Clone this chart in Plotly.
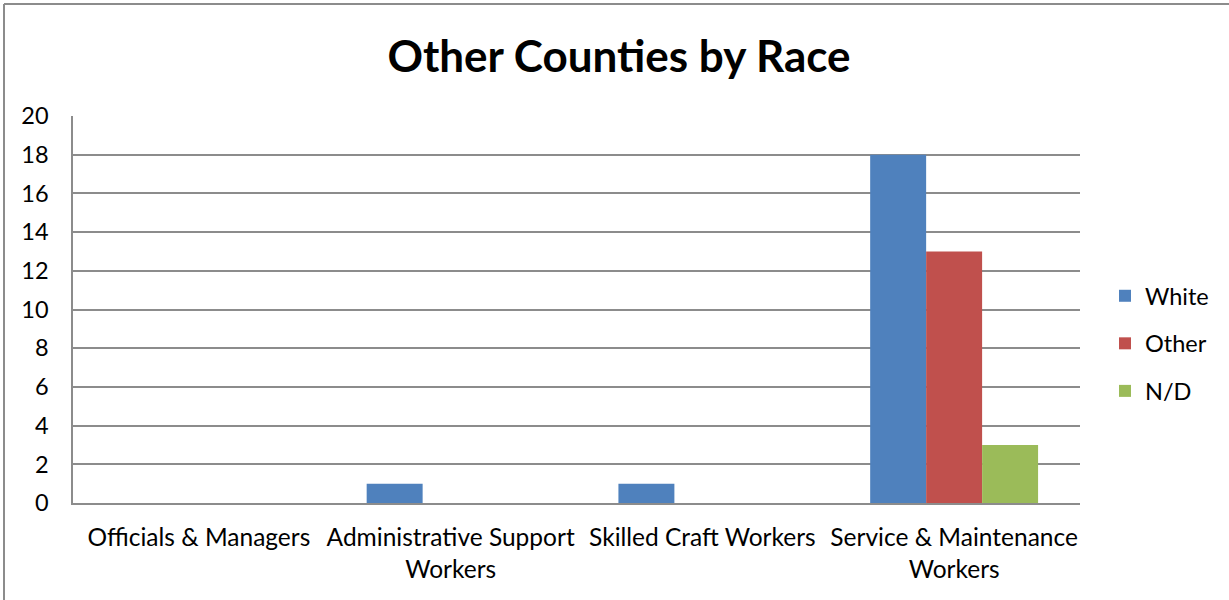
import plotly.graph_objects as go

categories = ["Officials & Managers", "Administrative Support<br>Workers",
              "Skilled Craft Workers", "Service & Maintenance<br>Workers"]
white = [0, 1, 1, 18]
other = [0, 0, 0, 13]
nd = [0, 0, 0, 3]

series = [("White", white, "#4F81BD"), ("Other", other, "#C0504D"), ("N/D", nd, "#9BBB59")]

W, H = 1229, 600
L, R, T, B = 73, 149, 116, 97
pw, ph = W - L - R, H - T - B

fig = go.Figure()
for name, vals, col in series:
    fig.add_trace(go.Bar(x=categories, y=vals, name=name, marker_color=col,
                         marker_line_width=0, legendgroup=name))

font = "Lato, 'Open Sans', sans-serif"
fs = 24.5
fig.update_layout(
    width=W, height=H,
    margin=dict(l=L, r=R, t=T, b=B),
    paper_bgcolor="white", plot_bgcolor="white",
    barmode="group", bargap=0.333, bargroupgap=0,
    font=dict(family=font, size=fs, color="#000"),
    title=dict(text="<b>Other Counties by Race</b>", x=619 / W, xanchor="center",
               y=1 - 57 / H, yanchor="middle", font=dict(size=44, family=font)),
    legend=dict(x=(1105 - L) / pw, xanchor="left", y=(H - B - 296 + 22) / ph,
                yanchor="top", font=dict(size=fs - 1), tracegroupgap=14,
                itemwidth=30, bgcolor="rgba(0,0,0,0)"),
    showlegend=True,
)
fig.update_yaxes(range=[0, 20], dtick=2, showgrid=True, gridcolor="#8c8c8c",
                 gridwidth=1.5, zeroline=False, showline=True, linecolor="#8c8c8c",
                 linewidth=1.5, ticks="outside", tickcolor="rgba(0,0,0,0)", ticklen=18,
                 tickfont=dict(size=fs - 1))
fig.update_xaxes(showline=True, linecolor="#8c8c8c", linewidth=1.5, ticks="outside",
                 tickcolor="rgba(0,0,0,0)", ticklen=12, tickfont=dict(size=fs))

# outer chart frame: left and top edges
frame_x = (4 - L) / pw
frame_y = (H - 4 - B) / ph
fig.add_shape(type="line", xref="paper", yref="paper",
              x0=frame_x, x1=frame_x, y0=-(B + 10) / ph, y1=frame_y,
              line=dict(color="#8c8c8c", width=2))
fig.add_shape(type="line", xref="paper", yref="paper",
              x0=frame_x, x1=(W + 10 - L) / pw, y0=frame_y, y1=frame_y,
              line=dict(color="#8c8c8c", width=2))

fig.write_html("out.html")
